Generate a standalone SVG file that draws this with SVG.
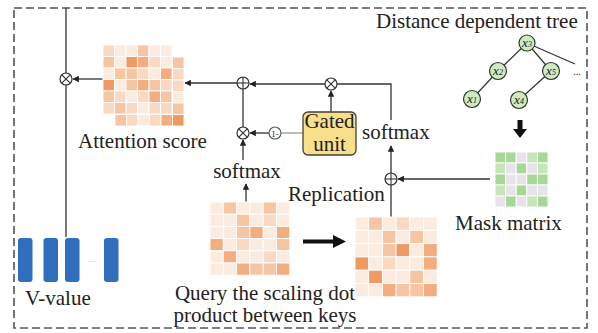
<svg xmlns="http://www.w3.org/2000/svg" width="598" height="333" viewBox="0 0 598 333">
  <style>
    text { font-family: "Liberation Serif", "Times New Roman", serif; font-size: 21px; fill: #222; }
    .frame { fill: none; stroke: #555; stroke-width: 1.6; stroke-dasharray: 8 4; }
    .wire { fill: none; stroke: #333; stroke-width: 1.3; }
    .wire-light { fill: none; stroke: #999; stroke-width: 1.3; }
    .op { fill: #fff; stroke: #333; stroke-width: 1.2; }
    .opline { stroke: #333; stroke-width: 1.1; }
    .c0 { fill: #fcebdf; } .c1 { fill: #f9d9c2; } .c2 { fill: #f6c5a3; } .c3 { fill: #f2ad80; } .c4 { fill: #ee9a62; }
    .g0 { fill: #e6e3ea; } .g1 { fill: #c6e5b8; } .g2 { fill: #a8d898; }
    .cells rect { stroke: #fff; stroke-width: 0.9; }
    .bar { fill: #2f6fbe; }
    .tnode { fill: #cfe9c3; stroke: #2a3a26; stroke-width: 1.2; }
    .tedge { stroke: #333; stroke-width: 1.2; }
    .tlabel { font-size: 13px; font-style: italic; }
    .big { fill: #111; }
  </style>
  <defs>
    <marker id="ah" viewBox="0 0 10 10" refX="9" refY="5" markerWidth="5" markerHeight="5" orient="auto">
      <path d="M0,0 L10,5 L0,10 z" fill="#222"/>
    </marker>
    <g id="otimes">
      <circle r="6" class="op"/>
      <line x1="-4.2" y1="-4.2" x2="4.2" y2="4.2" class="opline"/>
      <line x1="-4.2" y1="4.2" x2="4.2" y2="-4.2" class="opline"/>
    </g>
    <g id="oplus">
      <circle r="6" class="op"/>
      <line x1="-6" y1="0" x2="6" y2="0" class="opline"/>
      <line x1="0" y1="-6" x2="0" y2="6" class="opline"/>
    </g>
  </defs>

  <!-- outer dashed frame -->
  <rect x="14" y="8" width="573" height="320" class="frame"/>

  <!-- connectors -->
  <g id="connectors">
    <!-- V-value column up to top frame -->
    <line x1="66" y1="8" x2="66" y2="237" class="wire"/>
    <!-- attention score into weighting -->
    <line x1="103" y1="79" x2="73" y2="79" class="wire" marker-end="url(#ah)"/>
    <!-- sum node into attention score -->
    <line x1="237" y1="83" x2="185" y2="83" class="wire" marker-end="url(#ah)"/>
    <!-- gated product into sum -->
    <line x1="325" y1="84" x2="250" y2="84" class="wire" marker-end="url(#ah)"/>
    <!-- softmax branch up and left to gate product -->
    <polyline points="391,120 391,84 337,84" class="wire"/>
    <!-- gated unit up to product -->
    <line x1="331" y1="112" x2="331" y2="91" class="wire" marker-end="url(#ah)"/>
    <!-- gated unit to 1- -->
    <line x1="303" y1="133" x2="281" y2="133" class="wire-light"/>
    <!-- 1- to lower product -->
    <line x1="269" y1="133" x2="250" y2="133" class="wire" marker-end="url(#ah)"/>
    <!-- lower product up to sum -->
    <line x1="243" y1="127" x2="243" y2="89" class="wire"/>
    <!-- softmax to lower product -->
    <line x1="243" y1="160" x2="243" y2="140" class="wire" marker-end="url(#ah)"/>
    <!-- query matrix up to softmax -->
    <line x1="246" y1="202" x2="246" y2="184" class="wire" marker-end="url(#ah)"/>
    <!-- replicated matrix up through mask sum to softmax -->
    <line x1="391" y1="217" x2="391" y2="185" class="wire"/>
    <line x1="391" y1="173" x2="391" y2="146" class="wire" marker-end="url(#ah)"/>
    <!-- mask matrix into mask sum -->
    <line x1="490" y1="179" x2="398" y2="179" class="wire" marker-end="url(#ah)"/>
    <!-- replication arrow -->
    <path d="M303,239.5 H333 V235 L346,241.5 L333,248 V243.5 H303 z" class="big"/>
    <!-- tree to mask arrow -->
    <path d="M517.5,120 H522.5 V129 H527 L520,138 L513,129 H517.5 z" class="big"/>
  </g>

  <!-- operator nodes -->
  <g id="mul-value"><use href="#otimes" x="66" y="79"/></g>
  <g id="sum-score"><use href="#oplus" x="243" y="83"/></g>
  <g id="mul-gate"><use href="#otimes" x="331" y="84"/></g>
  <g id="mul-softmax"><use href="#otimes" x="243" y="133"/></g>
  <g id="sum-mask"><use href="#oplus" x="391" y="179"/></g>
  <g id="one-minus">
    <circle cx="275" cy="133" r="6" fill="#fff" stroke="#555" stroke-width="1.1"/>
    <text x="275" y="137" text-anchor="middle" style="font-size:9px">1-</text>
  </g>

  <!-- gated unit -->
  <g id="gated-unit">
    <rect x="303" y="112" width="53" height="43" rx="5" fill="#f8df8a" stroke="#4a4030" stroke-width="1.3"/>
    <text x="329.5" y="128" text-anchor="middle">Gated</text>
    <text x="329.5" y="151" text-anchor="middle">unit</text>
  </g>

  <!-- attention score matrix -->
  <g id="attention-score" class="cells">
    <!-- back layer, visible edge -->
    <rect x="172.5" y="57" width="11.5" height="11.5" class="c2"/>
    <rect x="172.5" y="68.5" width="11.5" height="11.5" class="c1"/>
    <rect x="172.5" y="80" width="11.5" height="11.5" class="c1"/>
    <rect x="172.5" y="91.5" width="11.5" height="11.5" class="c0"/>
    <rect x="172.5" y="103" width="11.5" height="11.5" class="c2"/>
    <rect x="172.5" y="114.5" width="11.5" height="11.5" class="c4"/>
    <rect x="115" y="114.5" width="11.5" height="11.5" class="c2"/>
    <rect x="126.5" y="114.5" width="11.5" height="11.5" class="c1"/>
    <rect x="138" y="114.5" width="11.5" height="11.5" class="c0"/>
    <rect x="149.5" y="114.5" width="11.5" height="11.5" class="c1"/>
    <rect x="161" y="114.5" width="11.5" height="11.5" class="c3"/>
    <!-- front layer -->
    <rect x="103" y="45" width="11.5" height="11.5" class="c1"/>
    <rect x="114.5" y="45" width="11.5" height="11.5" class="c0"/>
    <rect x="126" y="45" width="11.5" height="11.5" class="c0"/>
    <rect x="137.5" y="45" width="11.5" height="11.5" class="c2"/>
    <rect x="149" y="45" width="11.5" height="11.5" class="c0"/>
    <rect x="160.5" y="45" width="11.5" height="11.5" class="c0"/>
    <rect x="103" y="56.5" width="11.5" height="11.5" class="c2"/>
    <rect x="114.5" y="56.5" width="11.5" height="11.5" class="c0"/>
    <rect x="126" y="56.5" width="11.5" height="11.5" class="c4"/>
    <rect x="137.5" y="56.5" width="11.5" height="11.5" class="c3"/>
    <rect x="149" y="56.5" width="11.5" height="11.5" class="c1"/>
    <rect x="160.5" y="56.5" width="11.5" height="11.5" class="c0"/>
    <rect x="103" y="68" width="11.5" height="11.5" class="c0"/>
    <rect x="114.5" y="68" width="11.5" height="11.5" class="c2"/>
    <rect x="126" y="68" width="11.5" height="11.5" class="c2"/>
    <rect x="137.5" y="68" width="11.5" height="11.5" class="c1"/>
    <rect x="149" y="68" width="11.5" height="11.5" class="c0"/>
    <rect x="160.5" y="68" width="11.5" height="11.5" class="c3"/>
    <rect x="103" y="79.5" width="11.5" height="11.5" class="c4"/>
    <rect x="114.5" y="79.5" width="11.5" height="11.5" class="c0"/>
    <rect x="126" y="79.5" width="11.5" height="11.5" class="c2"/>
    <rect x="137.5" y="79.5" width="11.5" height="11.5" class="c3"/>
    <rect x="149" y="79.5" width="11.5" height="11.5" class="c2"/>
    <rect x="160.5" y="79.5" width="11.5" height="11.5" class="c1"/>
    <rect x="103" y="91" width="11.5" height="11.5" class="c2"/>
    <rect x="114.5" y="91" width="11.5" height="11.5" class="c1"/>
    <rect x="126" y="91" width="11.5" height="11.5" class="c0"/>
    <rect x="137.5" y="91" width="11.5" height="11.5" class="c1"/>
    <rect x="149" y="91" width="11.5" height="11.5" class="c3"/>
    <rect x="160.5" y="91" width="11.5" height="11.5" class="c2"/>
    <rect x="103" y="102.5" width="11.5" height="11.5" class="c1"/>
    <rect x="114.5" y="102.5" width="11.5" height="11.5" class="c2"/>
    <rect x="126" y="102.5" width="11.5" height="11.5" class="c1"/>
    <rect x="137.5" y="102.5" width="11.5" height="11.5" class="c0"/>
    <rect x="149" y="102.5" width="11.5" height="11.5" class="c1"/>
    <rect x="160.5" y="102.5" width="11.5" height="11.5" class="c1"/>
  </g>
  <g id="attention-score-label"><text x="78" y="148">Attention score</text></g>

  <!-- query/key scaled dot product matrix -->
  <g id="query-matrix" class="cells">
    <rect x="210" y="202" width="13.3" height="12.2" class="c0"/>
    <rect x="223.3" y="202" width="13.3" height="12.2" class="c2"/>
    <rect x="236.6" y="202" width="13.3" height="12.2" class="c0"/>
    <rect x="249.9" y="202" width="13.3" height="12.2" class="c0"/>
    <rect x="263.2" y="202" width="13.3" height="12.2" class="c2"/>
    <rect x="276.5" y="202" width="13.3" height="12.2" class="c0"/>
    <rect x="210" y="214.2" width="13.3" height="12.2" class="c0"/>
    <rect x="223.3" y="214.2" width="13.3" height="12.2" class="c0"/>
    <rect x="236.6" y="214.2" width="13.3" height="12.2" class="c2"/>
    <rect x="249.9" y="214.2" width="13.3" height="12.2" class="c0"/>
    <rect x="263.2" y="214.2" width="13.3" height="12.2" class="c1"/>
    <rect x="276.5" y="214.2" width="13.3" height="12.2" class="c0"/>
    <rect x="210" y="226.4" width="13.3" height="12.2" class="c0"/>
    <rect x="223.3" y="226.4" width="13.3" height="12.2" class="c0"/>
    <rect x="236.6" y="226.4" width="13.3" height="12.2" class="c2"/>
    <rect x="249.9" y="226.4" width="13.3" height="12.2" class="c3"/>
    <rect x="263.2" y="226.4" width="13.3" height="12.2" class="c0"/>
    <rect x="276.5" y="226.4" width="13.3" height="12.2" class="c3"/>
    <rect x="210" y="238.6" width="13.3" height="12.2" class="c3"/>
    <rect x="223.3" y="238.6" width="13.3" height="12.2" class="c0"/>
    <rect x="236.6" y="238.6" width="13.3" height="12.2" class="c1"/>
    <rect x="249.9" y="238.6" width="13.3" height="12.2" class="c0"/>
    <rect x="263.2" y="238.6" width="13.3" height="12.2" class="c0"/>
    <rect x="276.5" y="238.6" width="13.3" height="12.2" class="c2"/>
    <rect x="210" y="250.8" width="13.3" height="12.2" class="c0"/>
    <rect x="223.3" y="250.8" width="13.3" height="12.2" class="c3"/>
    <rect x="236.6" y="250.8" width="13.3" height="12.2" class="c0"/>
    <rect x="249.9" y="250.8" width="13.3" height="12.2" class="c0"/>
    <rect x="263.2" y="250.8" width="13.3" height="12.2" class="c1"/>
    <rect x="276.5" y="250.8" width="13.3" height="12.2" class="c0"/>
    <rect x="210" y="263" width="13.3" height="12.2" class="c0"/>
    <rect x="223.3" y="263" width="13.3" height="12.2" class="c0"/>
    <rect x="236.6" y="263" width="13.3" height="12.2" class="c3"/>
    <rect x="249.9" y="263" width="13.3" height="12.2" class="c2"/>
    <rect x="263.2" y="263" width="13.3" height="12.2" class="c2"/>
    <rect x="276.5" y="263" width="13.3" height="12.2" class="c3"/>
  </g>
  <g id="query-label">
    <text x="265" y="300" text-anchor="middle">Query the scaling dot</text>
    <text x="265" y="322" text-anchor="middle">product between keys</text>
  </g>

  <!-- replicated matrix -->
  <g id="replicated-matrix" class="cells">
    <rect x="355" y="217" width="13.7" height="13.3" class="c0"/>
    <rect x="368.7" y="217" width="13.7" height="13.3" class="c2"/>
    <rect x="382.4" y="217" width="13.7" height="13.3" class="c0"/>
    <rect x="396.1" y="217" width="13.7" height="13.3" class="c1"/>
    <rect x="409.8" y="217" width="13.7" height="13.3" class="c0"/>
    <rect x="423.5" y="217" width="13.7" height="13.3" class="c0"/>
    <rect x="355" y="230.3" width="13.7" height="13.3" class="c0"/>
    <rect x="368.7" y="230.3" width="13.7" height="13.3" class="c0"/>
    <rect x="382.4" y="230.3" width="13.7" height="13.3" class="c2"/>
    <rect x="396.1" y="230.3" width="13.7" height="13.3" class="c0"/>
    <rect x="409.8" y="230.3" width="13.7" height="13.3" class="c2"/>
    <rect x="423.5" y="230.3" width="13.7" height="13.3" class="c0"/>
    <rect x="355" y="243.6" width="13.7" height="13.3" class="c0"/>
    <rect x="368.7" y="243.6" width="13.7" height="13.3" class="c0"/>
    <rect x="382.4" y="243.6" width="13.7" height="13.3" class="c2"/>
    <rect x="396.1" y="243.6" width="13.7" height="13.3" class="c4"/>
    <rect x="409.8" y="243.6" width="13.7" height="13.3" class="c0"/>
    <rect x="423.5" y="243.6" width="13.7" height="13.3" class="c3"/>
    <rect x="355" y="256.9" width="13.7" height="13.3" class="c4"/>
    <rect x="368.7" y="256.9" width="13.7" height="13.3" class="c0"/>
    <rect x="382.4" y="256.9" width="13.7" height="13.3" class="c1"/>
    <rect x="396.1" y="256.9" width="13.7" height="13.3" class="c0"/>
    <rect x="409.8" y="256.9" width="13.7" height="13.3" class="c0"/>
    <rect x="423.5" y="256.9" width="13.7" height="13.3" class="c3"/>
    <rect x="355" y="270.2" width="13.7" height="13.3" class="c0"/>
    <rect x="368.7" y="270.2" width="13.7" height="13.3" class="c4"/>
    <rect x="382.4" y="270.2" width="13.7" height="13.3" class="c0"/>
    <rect x="396.1" y="270.2" width="13.7" height="13.3" class="c0"/>
    <rect x="409.8" y="270.2" width="13.7" height="13.3" class="c2"/>
    <rect x="423.5" y="270.2" width="13.7" height="13.3" class="c0"/>
    <rect x="355" y="283.5" width="13.7" height="13.3" class="c0"/>
    <rect x="368.7" y="283.5" width="13.7" height="13.3" class="c0"/>
    <rect x="382.4" y="283.5" width="13.7" height="13.3" class="c3"/>
    <rect x="396.1" y="283.5" width="13.7" height="13.3" class="c2"/>
    <rect x="409.8" y="283.5" width="13.7" height="13.3" class="c2"/>
    <rect x="423.5" y="283.5" width="13.7" height="13.3" class="c3"/>
  </g>
  <g id="replication-label"><text x="288" y="201">Replication</text></g>

  <!-- softmax labels -->
  <g id="softmax-lower"><text x="247" y="178" text-anchor="middle">softmax</text></g>
  <g id="softmax-upper"><text x="362" y="139">softmax</text></g>

  <!-- mask matrix -->
  <g id="mask-matrix" class="cells">
    <rect x="495" y="152" width="10.6" height="11" class="g2"/>
    <rect x="505.6" y="152" width="10.6" height="11" class="g2"/>
    <rect x="516.2" y="152" width="10.6" height="11" class="g0"/>
    <rect x="526.8" y="152" width="10.6" height="11" class="g1"/>
    <rect x="537.4" y="152" width="10.6" height="11" class="g2"/>
    <rect x="495" y="163" width="10.6" height="11" class="g1"/>
    <rect x="505.6" y="163" width="10.6" height="11" class="g0"/>
    <rect x="516.2" y="163" width="10.6" height="11" class="g2"/>
    <rect x="526.8" y="163" width="10.6" height="11" class="g0"/>
    <rect x="537.4" y="163" width="10.6" height="11" class="g1"/>
    <rect x="495" y="174" width="10.6" height="11" class="g2"/>
    <rect x="505.6" y="174" width="10.6" height="11" class="g0"/>
    <rect x="516.2" y="174" width="10.6" height="11" class="g0"/>
    <rect x="526.8" y="174" width="10.6" height="11" class="g2"/>
    <rect x="537.4" y="174" width="10.6" height="11" class="g2"/>
    <rect x="495" y="185" width="10.6" height="11" class="g1"/>
    <rect x="505.6" y="185" width="10.6" height="11" class="g0"/>
    <rect x="516.2" y="185" width="10.6" height="11" class="g2"/>
    <rect x="526.8" y="185" width="10.6" height="11" class="g0"/>
    <rect x="537.4" y="185" width="10.6" height="11" class="g0"/>
    <rect x="495" y="196" width="10.6" height="11" class="g0"/>
    <rect x="505.6" y="196" width="10.6" height="11" class="g2"/>
    <rect x="516.2" y="196" width="10.6" height="11" class="g0"/>
    <rect x="526.8" y="196" width="10.6" height="11" class="g1"/>
    <rect x="537.4" y="196" width="10.6" height="11" class="g2"/>
  </g>
  <g id="mask-label"><text x="455" y="230">Mask matrix</text></g>

  <!-- distance dependent tree -->
  <g id="tree">
    <text x="376" y="28">Distance dependent tree</text>
    <line x1="527" y1="43" x2="498" y2="71" class="tedge"/>
    <line x1="527" y1="43" x2="551" y2="71" class="tedge"/>
    <line x1="527" y1="43" x2="575" y2="64" class="tedge"/>
    <line x1="498" y1="71" x2="472" y2="99" class="tedge"/>
    <line x1="551" y1="71" x2="519" y2="100" class="tedge"/>
    <g id="tree-x3"><circle cx="527" cy="43" r="8" class="tnode"/><text x="527" y="47" text-anchor="middle" class="tlabel">x<tspan style="font-size:8px">3</tspan></text></g>
    <g id="tree-x2"><circle cx="498" cy="71" r="8.5" class="tnode"/><text x="498" y="75" text-anchor="middle" class="tlabel">x<tspan style="font-size:8px">2</tspan></text></g>
    <g id="tree-x5"><circle cx="551" cy="71" r="8.5" class="tnode"/><text x="551" y="75" text-anchor="middle" class="tlabel">x<tspan style="font-size:8px">5</tspan></text></g>
    <g id="tree-x1"><circle cx="472" cy="99" r="8.5" class="tnode"/><text x="472" y="103" text-anchor="middle" class="tlabel">x<tspan style="font-size:8px">1</tspan></text></g>
    <g id="tree-x4"><circle cx="519" cy="100" r="8.5" class="tnode"/><text x="519" y="104" text-anchor="middle" class="tlabel">x<tspan style="font-size:8px">4</tspan></text></g>
    <text x="577" y="75" text-anchor="middle" style="font-size:10px">...</text>
  </g>

  <!-- V-value vectors -->
  <g id="v-value">
    <rect x="18" y="238" width="14.5" height="44" rx="3" class="bar"/>
    <rect x="43.5" y="238" width="14.5" height="44" rx="3" class="bar"/>
    <rect x="65" y="238" width="14.5" height="44" rx="3" class="bar"/>
    <rect x="104" y="238" width="14.5" height="44" rx="3" class="bar"/>
    <text x="92" y="262" text-anchor="middle" style="font-size:8px;fill:#aaa">...</text>
    <text x="25" y="305">V-value</text>
  </g>
</svg>
